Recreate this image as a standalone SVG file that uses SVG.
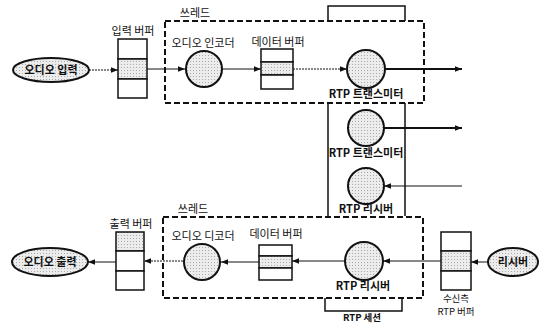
<svg xmlns="http://www.w3.org/2000/svg" width="541" height="325" viewBox="0 0 541 325">
<style>
text{font-family:"Noto Sans CJK KR","Noto Sans",sans-serif;font-size:11px;fill:#111;text-anchor:middle}
.b{font-weight:bold}
.sm{font-size:9.5px}
.thread{fill:none;stroke:#111;stroke-width:2;stroke-dasharray:6 3}
.frame{fill:none;stroke:#111;stroke-width:1.5}
.node{stroke:#111;stroke-width:2;fill:url(#dots)}
.cell{fill:#fff;stroke:#111;stroke-width:1.5}
.cellS{fill:url(#dots);stroke:#111;stroke-width:1.5}
.ln{fill:none;stroke:#111;stroke-width:1;marker-end:url(#ah)}
.dot{stroke-dasharray:2 1}
.thk{stroke-width:1.8}
</style>
<defs>
<pattern id="dots" width="3" height="3" patternUnits="userSpaceOnUse">
<rect width="3" height="3" fill="#ececec"/>
<rect x="1" y="1" width="1" height="1" fill="#aaa"/>
</pattern>
<marker id="ah" viewBox="0 0 10 10" refX="10" refY="5" markerWidth="7" markerHeight="7" markerUnits="userSpaceOnUse" orient="auto">
<path d="M0,1 L10,5 L0,9 z" fill="#111"/>
</marker>
</defs>

<g id="frames">
<rect class="thread" x="165" y="21" width="259" height="82"/>
<path class="frame" d="M328,21 V6 H405 V21"/>
<text x="195" y="17">쓰레드</text>
<path class="frame" d="M328,103 V216 M405,103 V216"/>
<rect class="thread" x="163" y="217" width="260" height="81"/>
<text x="193" y="213">쓰레드</text>
<path class="frame" d="M325,298 V311 H402 V298"/>
<text class="b sm" x="362" y="321">RTP 세션</text>
</g>

<g id="connectors">
<line class="ln dot" x1="89" y1="70" x2="118" y2="70"/>
<line class="ln" x1="147" y1="69" x2="185" y2="69"/>
<line class="ln" x1="223" y1="69" x2="261" y2="69"/>
<line class="ln dot" x1="293" y1="69" x2="347" y2="69"/>
<line class="ln thk" x1="385" y1="69" x2="462" y2="69"/>
<line class="ln thk" x1="384" y1="128" x2="462" y2="128"/>
<line class="ln" x1="462" y1="186" x2="384" y2="186"/>
<line class="ln" x1="488" y1="262" x2="471" y2="262"/>
<line class="ln" x1="441" y1="261" x2="383" y2="261"/>
<line class="ln" x1="345" y1="261" x2="292" y2="261"/>
<line class="ln" x1="259" y1="262" x2="221" y2="262"/>
<line class="ln dot" x1="183" y1="261" x2="144" y2="261"/>
<line class="ln" x1="116" y1="262" x2="88" y2="262"/>
</g>

<g id="audio-in">
<ellipse class="node" cx="51" cy="70" rx="38" ry="12"/>
<text class="b" x="51" y="74">오디오 입력</text>
</g>
<g id="input-buffer">
<rect class="cell" x="118" y="39" width="29" height="20"/>
<rect class="cellS" x="118" y="59" width="29" height="20"/>
<rect class="cell" x="118" y="79" width="29" height="19"/>
<text x="133" y="35">입력 버퍼</text>
</g>
<g id="encoder">
<circle class="node" cx="204" cy="69" r="18"/>
<text x="203" y="47">오디오 인코더</text>
</g>
<g id="data-buffer-top">
<rect class="cell" x="261" y="49" width="32" height="13"/>
<rect class="cellS" x="261" y="62" width="32" height="13"/>
<rect class="cell" x="261" y="75" width="32" height="14"/>
<text x="278" y="46">데이터 버퍼</text>
</g>
<g id="rtp-tx-1">
<circle class="node" cx="366" cy="69" r="19"/>
<text class="b" x="366" y="98">RTP 트랜스미터</text>
</g>
<g id="rtp-tx-2">
<circle class="node" cx="366" cy="128" r="18"/>
<text class="b" x="366" y="157">RTP 트랜스미터</text>
</g>
<g id="rtp-rx-1">
<circle class="node" cx="366" cy="186" r="18"/>
<text class="b" x="366" y="213">RTP 리시버</text>
</g>

<g id="audio-out">
<ellipse class="node" cx="50" cy="262" rx="38" ry="14"/>
<text class="b" x="50" y="266">오디오 출력</text>
</g>
<g id="output-buffer">
<rect class="cellS" x="116" y="232" width="28" height="19"/>
<rect class="cell" x="116" y="251" width="28" height="20"/>
<rect class="cell" x="116" y="271" width="28" height="19"/>
<text x="131" y="228">출력 버퍼</text>
</g>
<g id="decoder">
<circle class="node" cx="202" cy="262" r="18"/>
<text x="203" y="240">오디오 디코더</text>
</g>
<g id="data-buffer-bottom">
<rect class="cell" x="259" y="245" width="33" height="11"/>
<rect class="cellS" x="259" y="256" width="33" height="12"/>
<rect class="cell" x="259" y="268" width="33" height="12"/>
<text x="276" y="238">데이터 버퍼</text>
</g>
<g id="rtp-rx-2">
<circle class="node" cx="364" cy="261" r="19"/>
<text class="b" x="363" y="290">RTP 리시버</text>
</g>
<g id="recv-buffer">
<rect class="cell" x="441" y="232" width="30" height="19"/>
<rect class="cellS" x="441" y="251" width="30" height="20"/>
<rect class="cell" x="441" y="271" width="30" height="19"/>
<text class="sm" x="456" y="302">수신측</text>
<text class="sm" x="456" y="315">RTP 버퍼</text>
</g>
<g id="receiver">
<ellipse class="node" cx="513" cy="262" rx="25" ry="14"/>
<text class="b" x="513" y="266">리시버</text>
</g>
</svg>
